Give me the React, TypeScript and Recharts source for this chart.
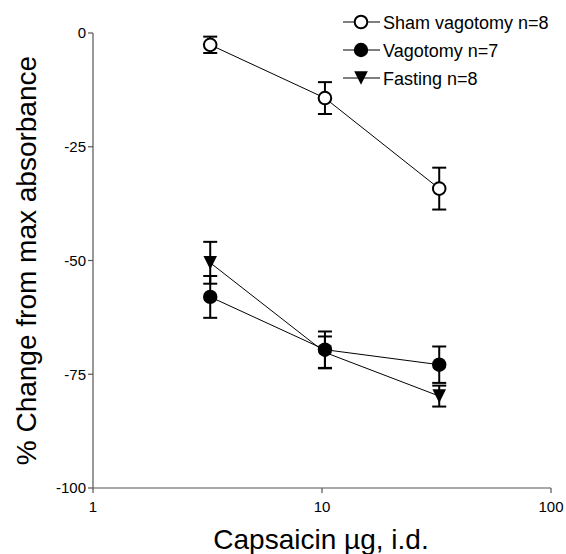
import React from 'react';
import { LineChart, Line, XAxis, YAxis, ErrorBar, Legend, Label } from 'recharts';

// Doses (µg, i.d.) on a log axis
const doses = [3.25, 10.3, 32.5];
// Sham vagotomy n=8
const shamMean = [-2.6, -14.3, -34.2];
const shamSem = [1.8, 3.5, 4.6];
// Vagotomy n=7
const vagMean = [-58.0, -69.6, -72.9];
const vagSem = [4.6, 4.0, 4.0];
// Fasting n=8
const fastMean = [-50.5, -70.2, -79.8];
const fastSem = [4.6, 3.5, 2.3];

const xTicks = [1, 10, 100];
const yTicks = [-100, -75, -50, -25, 0];
const seriesNames = ['Sham vagotomy n=8', 'Vagotomy n=7', 'Fasting n=8'];
const xTitle = 'Capsaicin µg, i.d.';
const yTitle = '% Change from max absorbance';

const data = doses.map((d, i) => ({
  dose: d,
  sham: shamMean[i],
  shamErr: shamSem[i],
  vag: vagMean[i],
  vagErr: vagSem[i],
  fast: fastMean[i],
  fastErr: fastSem[i],
}));

const FONT = '"Liberation Sans", Arial, sans-serif';
const AXIS = '#555';

const OpenCircle = (p: any) => {
  const { cx, cy, key } = p;
  if (cx == null || cy == null) return <g key={key} />;
  return <circle key={key} cx={cx} cy={cy} r={6.3} fill="#fff" stroke="#000" strokeWidth={2} />;
};
const FilledCircle = (p: any) => {
  const { cx, cy, key } = p;
  if (cx == null || cy == null) return <g key={key} />;
  return <circle key={key} cx={cx} cy={cy} r={7.2} fill="#000" stroke="none" />;
};
const DownTriangle = (p: any) => {
  const { cx, cy, key } = p;
  if (cx == null || cy == null) return <g key={key} />;
  const s = 6.8;
  return (
    <polygon
      key={key}
      points={`${cx - s},${cy - s} ${cx + s},${cy - s} ${cx},${cy + s}`}
      fill="#000"
      stroke="none"
    />
  );
};

const markers = [OpenCircle, FilledCircle, DownTriangle];

const LegendContent = () => {
  const rows = [22, 50, 78];
  return (
    <svg width={236} height={95} style={{ display: 'block' }}>
      {seriesNames.map((name, i) => {
        const M = markers[i];
        const y = rows[i];
        return (
          <g key={name}>
            <line x1={13} x2={50} y1={y} y2={y} stroke="#000" strokeWidth={1} />
            {M({ cx: 31, cy: y, key: 'm' + i })}
            <text x={53} y={y + 6.5} fontSize={18} fontFamily={FONT} fill="#000">
              {name}
            </text>
          </g>
        );
      })}
    </svg>
  );
};

const YTitle = () => (
  <text
    x={36}
    y={260.6}
    transform="rotate(-90 36 260.6)"
    textAnchor="middle"
    fontSize={28}
    fontFamily={FONT}
    fill="#000"
  >
    {yTitle}
  </text>
);

const XTitle = () => (
  <text x={321} y={548.5} textAnchor="middle" fontSize={28} fontFamily={FONT} fill="#000">
    {xTitle}
  </text>
);

export default function App() {
  return (
    <div style={{ position: 'absolute', left: 0, top: 0, width: 566, height: 554, background: '#fff' }}>
      <LineChart
        width={566}
        height={554}
        data={data}
        margin={{ top: 33, right: 15, bottom: 36, left: 0 }}
      >
        <XAxis
          dataKey="dose"
          type="number"
          scale="log"
          domain={[1, 100]}
          ticks={xTicks}
          allowDataOverflow
          height={30}
          tickFormatter={(v: number) => String(v)}
          axisLine={{ stroke: AXIS, strokeWidth: 1.2 }}
          tickLine={{ stroke: AXIS, strokeWidth: 1.2 }}
          tickSize={5}
          tickMargin={8}
          tick={{ fontSize: 15, fontFamily: FONT, fill: '#000' }}
          label={<Label content={XTitle} />}
        />
        <YAxis
          type="number"
          domain={[-100, 0]}
          ticks={yTicks}
          width={93}
          axisLine={{ stroke: AXIS, strokeWidth: 1.2 }}
          tickLine={{ stroke: AXIS, strokeWidth: 1.2 }}
          tickSize={5}
          tickMargin={2}
          tick={{ fontSize: 15, fontFamily: FONT, fill: '#000' }}
          label={<Label content={YTitle} />}
        />
        <Legend
          layout="vertical"
          align="center"
          verticalAlign="middle"
          content={LegendContent}
          wrapperStyle={{ left: 330, top: 0, width: 236, height: 95 }}
        />
        <Line
          dataKey="sham"
          name={seriesNames[0]}
          stroke="#000"
          strokeWidth={1}
          dot={OpenCircle}
          activeDot={false}
          isAnimationActive={false}
        >
          <ErrorBar dataKey="shamErr" direction="y" width={7} strokeWidth={2} stroke="#000" />
        </Line>
        <Line
          dataKey="vag"
          name={seriesNames[1]}
          stroke="#000"
          strokeWidth={1}
          dot={FilledCircle}
          activeDot={false}
          isAnimationActive={false}
        >
          <ErrorBar dataKey="vagErr" direction="y" width={7} strokeWidth={2} stroke="#000" />
        </Line>
        <Line
          dataKey="fast"
          name={seriesNames[2]}
          stroke="#000"
          strokeWidth={1}
          dot={DownTriangle}
          activeDot={false}
          isAnimationActive={false}
        >
          <ErrorBar dataKey="fastErr" direction="y" width={7} strokeWidth={2} stroke="#000" />
        </Line>
      </LineChart>
    </div>
  );
}
